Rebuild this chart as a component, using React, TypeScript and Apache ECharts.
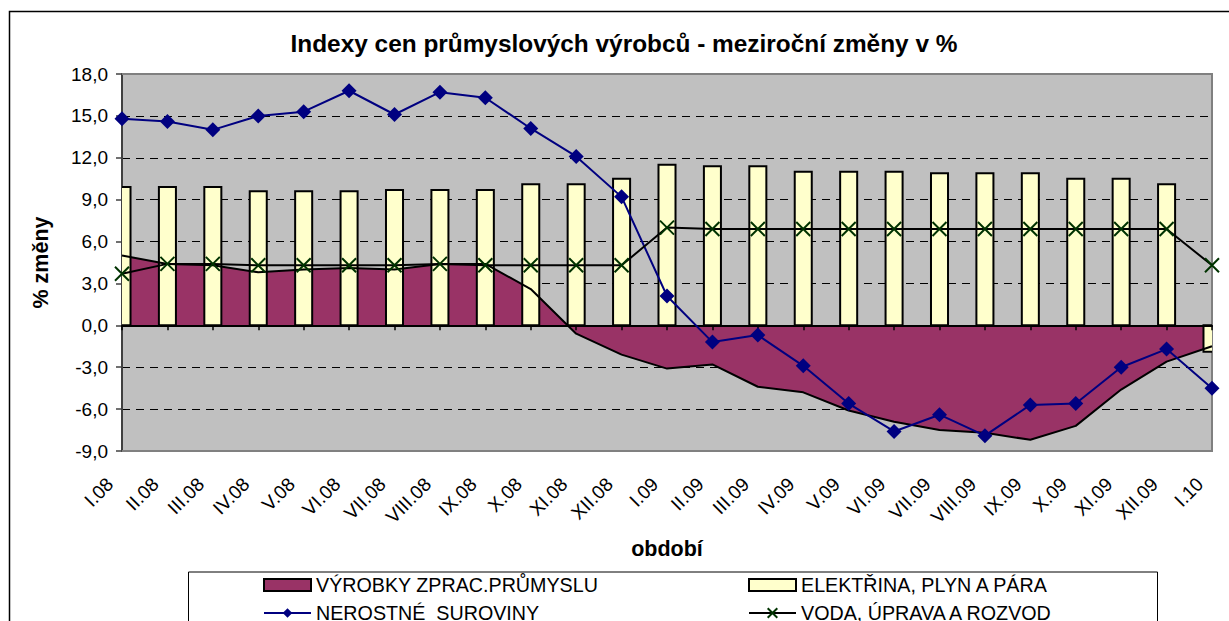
import React, { useEffect, useRef } from "react";
import * as echarts from "echarts";

const categories = [
  "I.08", "II.08", "III.08", "IV.08", "V.08", "VI.08", "VII.08", "VIII.08", "IX.08", "X.08", "XI.08", "XII.08",
  "I.09", "II.09", "III.09", "IV.09", "V.09", "VI.09", "VII.09", "VIII.09", "IX.09", "X.09", "XI.09", "XII.09",
  "I.10",
];

// VÝROBKY ZPRAC.PRŮMYSLU (area)
const vyrobky = [5.0, 4.4, 4.3, 3.8, 4.0, 4.1, 4.0, 4.4, 4.4, 2.6, -0.6, -2.1, -3.1, -2.8, -4.4, -4.8, -6.1, -6.9, -7.5, -7.7, -8.2, -7.2, -4.6, -2.6, -1.5];
// ELEKTŘINA, PLYN A PÁRA (bars)
const elektrina = [9.9, 9.9, 9.9, 9.6, 9.6, 9.6, 9.7, 9.7, 9.7, 10.1, 10.1, 10.5, 11.5, 11.4, 11.4, 11.0, 11.0, 11.0, 10.9, 10.9, 10.9, 10.5, 10.5, 10.1, -1.9];
// NEROSTNÉ SUROVINY (line, diamonds)
const nerostne = [14.8, 14.6, 14.0, 15.0, 15.3, 16.8, 15.1, 16.7, 16.3, 14.1, 12.1, 9.2, 2.1, -1.2, -0.7, -2.9, -5.6, -7.6, -6.4, -7.9, -5.7, -5.6, -3.0, -1.7, -4.5];
// VODA, ÚPRAVA A ROZVOD (line, X markers)
const voda = [3.7, 4.4, 4.4, 4.3, 4.3, 4.3, 4.3, 4.4, 4.3, 4.3, 4.3, 4.3, 7.0, 6.9, 6.9, 6.9, 6.9, 6.9, 6.9, 6.9, 6.9, 6.9, 6.9, 6.9, 4.3];

const Y_MIN = -9;
const Y_MAX = 18;
const Y_STEP = 3;

const TITLE = "Indexy cen průmyslových výrobců - meziroční změny v %";
const NAME_A = "VÝROBKY ZPRAC.PRŮMYSLU";
const NAME_B = "ELEKTŘINA, PLYN A PÁRA";
const NAME_C = "NEROSTNÉ  SUROVINY";
const NAME_D = "VODA, ÚPRAVA A ROZVOD";

const FONT = '"Liberation Sans", Arial, sans-serif';

const PURPLE = "#993366";
const YELLOW = "#FFFFCC";
const NAVY = "#000080";
const GREEN = "#003300";
const XSYM = "path://M0,0L10,10M10,0L0,10";
const BAR_FRACTION = 0.375;

export default function App() {
  const ref = useRef<HTMLDivElement>(null);

  useEffect(() => {
    if (!ref.current) return;
    const chart = echarts.init(ref.current, null, { renderer: "svg" });
    const legendText = { fontSize: 19.7, color: "#000", fontFamily: FONT };
    const barData = elektrina.map((v, i) => [i, v]);
    chart.setOption({
      animation: false,
      backgroundColor: "#ffffff",
      textStyle: { fontFamily: FONT },
      title: {
        text: TITLE,
        left: 624,
        top: 31,
        padding: 0,
        textAlign: "center",
        textStyle: { fontSize: 24.4, fontWeight: "bold", color: "#000", fontFamily: FONT },
      },
      grid: {
        left: 122,
        top: 74,
        width: 1090,
        height: 377,
        show: true,
        backgroundColor: "#C0C0C0",
        borderWidth: 0,
        containLabel: false,
        outerBoundsMode: "none",
      },
      legend: [
        {
          left: 263,
          top: 575,
          height: 120,
          orient: "vertical",
          padding: 0,
          itemWidth: 47,
          itemHeight: 12,
          itemGap: 8,
          selectedMode: false,
          textStyle: legendText,
          data: [
            { name: NAME_A, icon: "rect", itemStyle: { color: PURPLE, borderColor: "#000", borderWidth: 2 } },
            { name: NAME_C, itemStyle: { color: NAVY, borderWidth: 0 }, lineStyle: { color: NAVY, width: 2 } },
          ],
        },
        {
          left: 748,
          top: 575,
          height: 120,
          orient: "vertical",
          padding: 0,
          itemWidth: 47,
          itemHeight: 12,
          itemGap: 8,
          selectedMode: false,
          textStyle: legendText,
          data: [
            { name: NAME_B, icon: "rect", itemStyle: { color: YELLOW, borderColor: "#000", borderWidth: 2 } },
            { name: NAME_D, itemStyle: { color: GREEN, borderColor: GREEN, borderWidth: 2 }, lineStyle: { color: "#000", width: 2 } },
          ],
        },
      ],
      xAxis: [
        {
          type: "category",
          data: categories,
          boundaryGap: false,
          position: "bottom",
          axisLine: { show: false, onZero: false },
          axisTick: { show: false },
          splitLine: { show: false },
          axisLabel: {
            interval: 0,
            rotate: 45,
            margin: 18,
            padding: [0, 17, 0, 0],
            fontSize: 19,
            color: "#000",
            fontFamily: FONT,
          },
          name: "období",
          nameLocation: "middle",
          nameGap: 98,
          nameMoveOverlap: false,
          nameTextStyle: { fontSize: 21.5, fontWeight: "bold", color: "#000", verticalAlign: "middle", fontFamily: FONT },
        },
        {
          type: "category",
          data: categories,
          boundaryGap: false,
          position: "bottom",
          z: 3,
          axisLine: { show: true, onZero: true, lineStyle: { color: "#000", width: 2 } },
          axisTick: { show: true, length: 5, lineStyle: { color: "#000", width: 1.5 } },
          axisLabel: { show: false },
          splitLine: { show: false },
        },
      ],
      yAxis: {
        type: "value",
        min: Y_MIN,
        max: Y_MAX,
        interval: Y_STEP,
        axisLine: { show: true, lineStyle: { color: "#404040", width: 2 } },
        axisTick: { show: true, length: 6, lineStyle: { color: "#404040", width: 1.5 } },
        axisLabel: {
          margin: 14,
          fontSize: 19,
          color: "#000",
          fontFamily: FONT,
          formatter: (v: number) => v.toFixed(1).replace(".", ","),
        },
        splitLine: { show: true, lineStyle: { color: "#000", width: 1, type: [8, 6] } },
        name: "% změny",
        nameLocation: "middle",
        nameGap: 81,
        nameRotate: 90,
        nameMoveOverlap: false,
        nameTextStyle: { fontSize: 21.5, fontWeight: "bold", color: "#000", verticalAlign: "middle", fontFamily: FONT },
      },
      graphic: [
        {
          type: "rect",
          silent: true,
          z: 0,
          shape: { x: 9.5, y: 11.5, width: 1300, height: 700 },
          style: { fill: "none", stroke: "#000", lineWidth: 1.5 },
        },
        {
          type: "polyline",
          silent: true,
          z: 1,
          shape: { points: [[122, 74], [1212, 74], [1212, 451], [122, 451]] },
          style: { fill: "none", stroke: "#808080", lineWidth: 2 },
        },
        {
          type: "rect",
          silent: true,
          z: 1,
          shape: { x: 188.5, y: 572, width: 969, height: 100 },
          style: { fill: "none", stroke: "#000", lineWidth: 1 },
        },
      ],
      series: [
        {
          name: NAME_A,
          type: "line",
          data: vyrobky,
          z: 2,
          clip: false,
          symbol: "none",
          lineStyle: { color: "#000", width: 2 },
          areaStyle: { color: PURPLE, opacity: 1, origin: 0 },
          itemStyle: { color: PURPLE },
        },
        {
          name: NAME_B,
          type: "custom",
          data: barData,
          z: 2,
          clip: true,
          encode: { x: 0, y: 1 },
          itemStyle: { color: YELLOW, borderColor: "#000", borderWidth: 2 },
          renderItem: (params: any, api: any) => {
            const idx = api.value(0);
            const val = api.value(1);
            const p0 = api.coord([idx, 0]);
            const p1 = api.coord([idx, val]);
            const band = api.size([1, 0])[0];
            const w = band * BAR_FRACTION;
            return {
              type: "rect",
              shape: {
                x: p0[0] - w / 2,
                y: Math.min(p0[1], p1[1]),
                width: w,
                height: Math.abs(p1[1] - p0[1]),
              },
              style: { fill: YELLOW, stroke: "#000", lineWidth: 2 },
            };
          },
        },
        {
          name: NAME_C,
          type: "line",
          data: nerostne,
          z: 4,
          clip: false,
          symbol: "diamond",
          symbolSize: 15,
          lineStyle: { color: NAVY, width: 2 },
          itemStyle: { color: NAVY },
        },
        {
          name: NAME_D,
          type: "line",
          data: voda,
          z: 4,
          clip: false,
          symbol: XSYM,
          symbolSize: 14,
          lineStyle: { color: "#000", width: 2 },
          itemStyle: { color: GREEN, borderColor: GREEN, borderWidth: 2 },
        },
      ],
    });
    return () => chart.dispose();
  }, []);

  return (
    <div
      ref={ref}
      style={{ position: "fixed", left: 0, top: 0, width: 1229, height: 621 }}
    />
  );
}
